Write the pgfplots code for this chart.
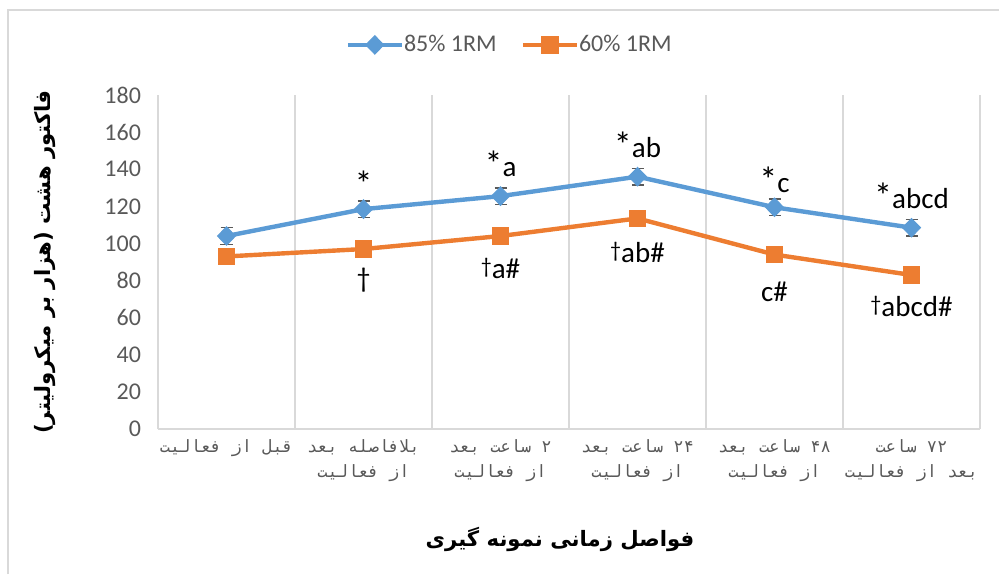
\documentclass[border=0pt]{standalone}
\usepackage{pgfplots}
\pgfplotsset{compat=1.18}
\usepackage{fontspec}
\setmainfont{Carlito}
\newfontfamily\arabicfont[Script=Arabic]{DejaVu Sans}
\newfontfamily\arabicmono[Script=Arabic]{DejaVu Sans Mono}
\TeXXeTstate=1
\definecolor{cblue}{HTML}{5B9BD5}
\definecolor{corange}{HTML}{ED7D31}
\definecolor{tgray}{HTML}{595959}
\definecolor{ggray}{HTML}{D9D9D9}
\newcommand{\st}{{\fontsize{18}{18}\selectfont *}}
\newcommand{\dg}{\raisebox{0.35ex}{\fontsize{11}{11}\selectfont †}}
\begin{document}
\begin{tikzpicture}
\useasboundingbox (-79pt,-72.5pt) rectangle (420.5pt,214.5pt);
\draw[ggray, line width=1pt] (-75pt,-72.5pt) -- (-75pt,209.5pt) -- (420.5pt,209.5pt);
\begin{axis}[
  at={(0,0)}, anchor=south west,
  scale only axis, width=411pt, height=167pt,
  xmin=-0.5, xmax=5.5, ymin=0, ymax=180,
  xtick={0,...,5},
  minor xtick={-0.5,0.5,...,5.5},
  xminorgrids=true,
  minor grid style={ggray, line width=0.8pt},
  ytick={0,20,...,180},
  /pgf/number format/assume math mode=true,
  tick style={draw=none},
  axis line style={draw=none},
  x axis line style={draw=ggray, line width=0.8pt},
  axis x line*=bottom, axis y line*=left,
  yticklabel style={font=\fontsize{12}{14}\selectfont, text=tgray, xshift=-5pt},
  xticklabel style={align=center, font=\arabicmono\fontsize{8.5}{12.5}\selectfont, text=tgray, yshift=-2pt},
  xticklabels={
    {\beginR قبل از فعالیت\endR},
    {\beginR بلافاصله بعد\endR\\\beginR از فعالیت\endR},
    {\beginR ۲ ساعت بعد\endR\\\beginR از فعالیت\endR},
    {\beginR ۲۴ ساعت بعد\endR\\\beginR از فعالیت\endR},
    {\beginR ۴۸ ساعت بعد\endR\\\beginR از فعالیت\endR},
    {\beginR ۷۲ ساعت\endR\\\beginR بعد از فعالیت\endR}},
  ylabel={\arabicfont\bfseries\beginR فاکتور هشت (هزار بر میکرولیتر)\endR},
  every axis y label/.style={at={(axis description cs:-0.1375,0.5)}, rotate=90, anchor=center, font=\fontsize{10.6}{13}\selectfont},
  xlabel={\arabicfont\bfseries\beginR فواصل زمانی نمونه گیری\endR},
  every axis x label/.style={at={(axis description cs:0.489,-0.332)}, anchor=center, font=\fontsize{10.6}{13}\selectfont},
  legend style={at={(axis description cs:0.429,1.15)}, anchor=center, draw=none, fill=none,
    legend columns=2, font=\fontsize{12}{14}\selectfont, text=tgray,
    /tikz/every even column/.append style={column sep=10pt},
    /tikz/every odd column/.append style={column sep=-2pt}},
  legend image code/.code={\draw[mark repeat=2,mark phase=2] plot coordinates {(0pt,0pt)(13.5pt,0pt)(27pt,0pt)};},
]
\addplot[cblue, line width=2.2pt, mark=diamond*, mark size=4.6pt, mark options={xscale=1.3, line width=0.5pt},
  error bars/.cd, y dir=both, y explicit, error bar style={tgray, line width=0.8pt}, error mark options={rotate=90, mark size=3pt, tgray, line width=0.8pt}]
  table[x=x, y=y, y error=e] {
x y e
0 104 4.5
1 118.5 4.5
2 125.5 4.5
3 136 4.5
4 119.5 4.5
5 108.5 4.5
};
\addlegendentry{85\% 1RM}
\addplot[corange, line width=2.2pt, mark=square*, mark size=4.2pt, mark options={line width=0.5pt},
  error bars/.cd, y dir=both, y explicit, error bar style={tgray, line width=0.8pt}, error mark options={rotate=90, mark size=3pt, tgray, line width=0.8pt}]
  table[x=x, y=y, y error=e] {
x y e
0 93 4
1 97 4
2 104 4
3 113.5 4
4 94 4
5 83 4
};
\addlegendentry{60\% 1RM}
\begin{scope}[every node/.style={font=\fontsize{14.5}{16}\selectfont, text=black, inner sep=0pt}]
\node at (axis cs:1,132) {\st};
\node at (axis cs:2,143) {\st a};
\node at (axis cs:3,153) {\st ab};
\node at (axis cs:4,134.5) {\st c};
\node at (axis cs:5,125.5) {\st abcd};
\node at (axis cs:1,80) {{\fontsize{14}{14}\selectfont †}};
\node at (axis cs:2,86.5) {\dg a\#};
\node at (axis cs:3,95) {\dg ab\#};
\node at (axis cs:4,74) {c\#};
\node at (axis cs:5,66) {\dg abcd\#};
\end{scope}
\end{axis}
\end{tikzpicture}
\end{document}
